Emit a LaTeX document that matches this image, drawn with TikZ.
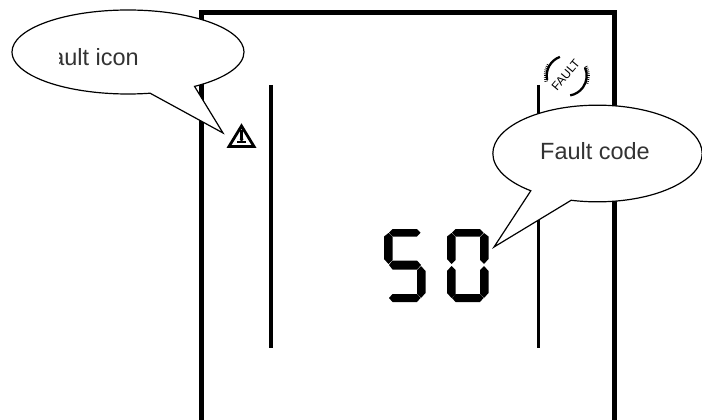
\documentclass[tikz,border=0pt]{standalone}
\usepackage{fontspec}
\setmainfont{Liberation Sans}
\usetikzlibrary{shapes.callouts}

\begin{document}
\begin{tikzpicture}[
    x=0.75pt,
    y=-0.75pt,
    frameline/.style={line width=3.75pt},
    innerline/.style={line width=2.9pt},
    bubble/.style={
        ellipse callout,
        draw=black,
        fill=white,
        line width=0.9pt,
        inner sep=0pt
    },
    bubbletext/.style={font=\fontsize{17.6}{20}\selectfont, text=black!80, inner sep=0pt},
    segment/.style={fill=black, draw=none},
    ticks/.style={line width=0.5pt},
    arcline/.style={line width=1.7pt}
]
\useasboundingbox (0,0) rectangle (702,420);

% display frame
\draw[frameline] (201.5,420) -- (201.5,12.5) -- (614,12.5) -- (614,420);
\draw[innerline] (271,85) -- (271,348);
\draw[innerline] (538.5,85) -- (538.5,348);

% fault icon, upper right
\node[rotate=50, inner sep=0pt, font=\fontsize{9}{10}\selectfont] (faultlabel) at (565.7,75) {FAULT};
\draw[arcline] (566.7,75.7) ++(-110:20) arc (-110:-192:20);
\draw[arcline] (566.7,75.7) ++(-24:20) arc (-24:80:20);
\foreach \ang in {-195,-190,...,-150} {
    \draw[ticks] (566.7,75.7) ++(\ang:19.5) -- ++(\ang:3.5);
}
\foreach \ang in {-25,-20,...,20} {
    \draw[ticks] (566.7,75.7) ++(\ang:19.5) -- ++(\ang:3.5);
}

% warning icon
\draw[line width=2.1pt, miter limit=10] (241.5,126) -- (254,146.5) -- (229,146.5) -- cycle;
\fill (240,130) rectangle (243,139);
\fill (237,141.5) rectangle (246,143.5);
\fill (239.5,139) -- (243.5,139) -- (241.5,142) -- cycle;

% seven segment digits
\foreach \xoff/\segs in {384/{a,f,g,c,d}, 447/{a,b,c,d,e,f}} {
    \begin{scope}[shift={(\xoff,229)}]
        \foreach \s in \segs {
            \ifnum\pdfstrcmp{\s}{a}=0 \fill[segment] (8.5,0) -- (33,0) -- (36.5,3.7) -- (33,7.5) -- (8.5,7.5) -- (5,3.7) -- cycle; \fi
            \ifnum\pdfstrcmp{\s}{b}=0 \fill[segment] (41.5,7.5) -- (41.5,30) -- (37,35) -- (33,31) -- (33,8) -- (37,4) -- cycle; \fi
            \ifnum\pdfstrcmp{\s}{c}=0 \fill[segment] (41.5,42) -- (41.5,64) -- (37,69) -- (33,65) -- (33,41) -- (37,37) -- cycle; \fi
            \ifnum\pdfstrcmp{\s}{d}=0 \fill[segment] (8.5,65) -- (33,65) -- (36.5,69) -- (33,73) -- (8.5,73) -- (5,69) -- cycle; \fi
            \ifnum\pdfstrcmp{\s}{e}=0 \fill[segment] (0,42) -- (0,64) -- (4.5,69) -- (8.5,65) -- (8.5,41) -- (4.5,37) -- cycle; \fi
            \ifnum\pdfstrcmp{\s}{f}=0 \fill[segment] (0,7.5) -- (0,30) -- (4.5,35) -- (8.5,31) -- (8.5,8) -- (4.5,4) -- cycle; \fi
            \ifnum\pdfstrcmp{\s}{g}=0 \fill[segment] (8.5,31.5) -- (33,31.5) -- (37,36) -- (33,40.5) -- (8.5,40.5) -- (5,36) -- cycle; \fi
        }
    \end{scope}
}

% callouts
\node[bubble, minimum width=174pt, minimum height=63pt,
      callout absolute pointer={(223,133)}, callout pointer arc=24] (iconbubble) at (128,52) {};
\begin{scope}
    \clip (59,30) rectangle (150,75);
    \node[bubbletext, anchor=east] (iconlabel) at (139,57) {Fault icon};
\end{scope}

\node[bubble, minimum width=157pt, minimum height=72.5pt,
      callout absolute pointer={(494,247)}, callout pointer arc=25] (codebubble) at (597.5,153.5) {};
\node[bubbletext] (codelabel) at (595,151) {Fault code};

\end{tikzpicture}
\end{document}
